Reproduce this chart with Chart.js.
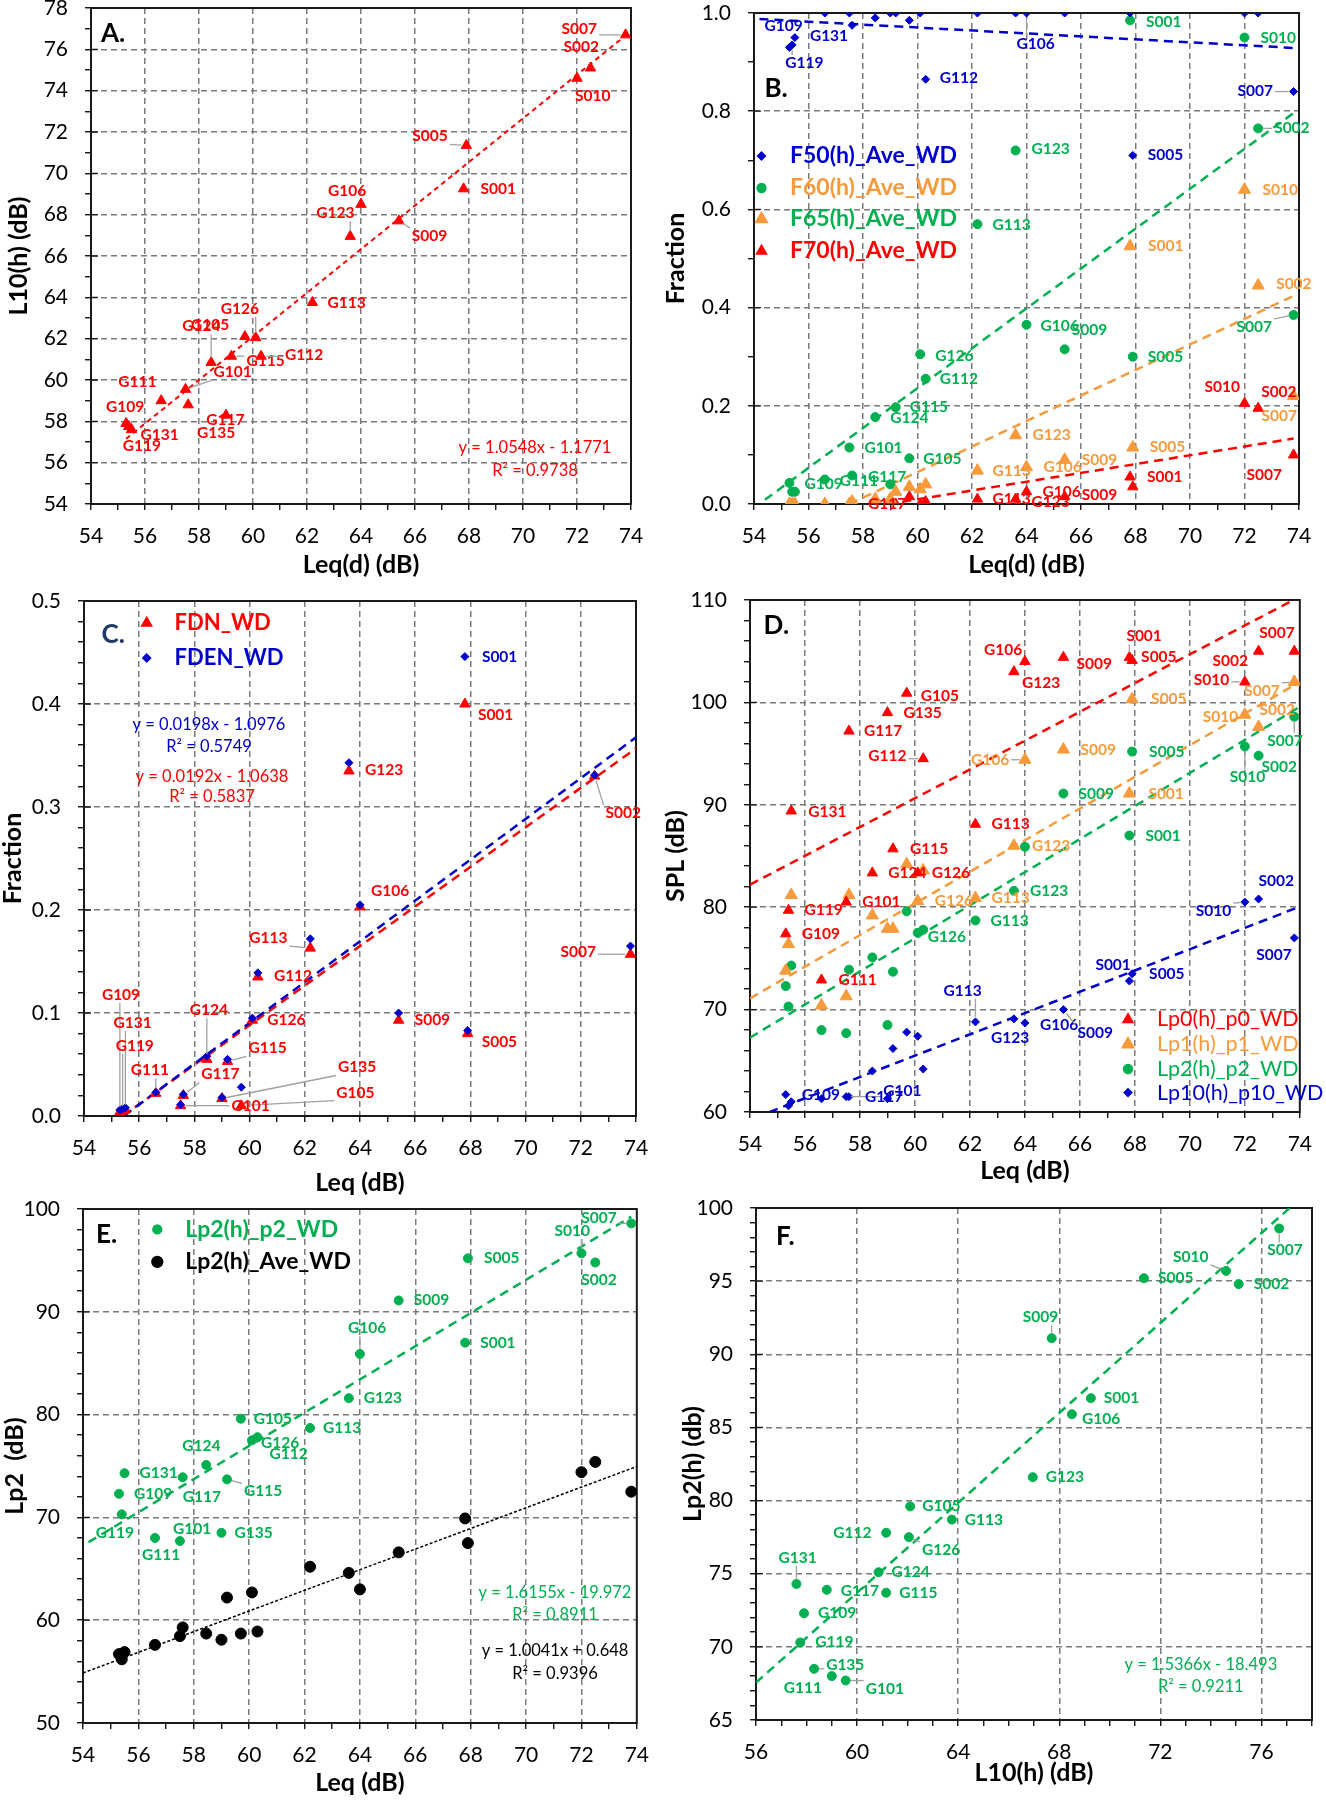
<!DOCTYPE html>
<html>
<head>
<meta charset="utf-8">
<script src="https://cdn.jsdelivr.net/npm/chart.js@4.4.1/dist/chart.umd.min.js"></script>
<style>
  body { margin: 0; background: #fff; width: 1326px; height: 1800px; position: relative; overflow: hidden; }
  canvas { position: absolute; }
</style>
</head>
<body>
<canvas id="pA"></canvas>
<canvas id="pB"></canvas>
<canvas id="pC"></canvas>
<canvas id="pD"></canvas>
<canvas id="pE"></canvas>
<canvas id="pF"></canvas>
<script>
Chart.defaults.font.family = 'Lato, "Liberation Sans", sans-serif';
Chart.defaults.color = '#000';

// sites, same order in every array
const SITES = ['G101', 'G105', 'G106', 'G109', 'G111', 'G112', 'G113', 'G115', 'G117', 'G119', 'G123',
               'G124', 'G126', 'G131', 'G135', 'S001', 'S002', 'S005', 'S007', 'S009', 'S010'];

const LEQ  = [57.5, 59.7, 64.0, 55.3, 56.6, 60.3, 62.2, 59.2, 57.6, 55.4, 63.6, 58.45, 60.1, 55.5, 59.0, 67.8, 72.5, 67.9, 73.8, 65.4, 72.0];
const L10  = [59.55, 62.1, 68.5, 57.9, 59.0, 61.15, 63.75, 61.15, 58.8, 57.75, 66.95, 60.85, 62.05, 57.6, 58.3, 69.25, 75.1, 71.35, 76.7, 67.7, 74.6];

// panel B fractions
const F50 = [1.0, 0.985, 1.0, 0.93, 1.0, 0.865, 1.0, 1.0, 0.975, 0.935, 1.0, 0.99, 1.0, 0.95, 1.0, 1.0, 1.0, 0.71, 0.84, 1.0, 1.0];
const F60 = [0.0, 0.035, 0.075, 0.0, 0.0, 0.04, 0.068, 0.025, 0.005, 0.0, 0.14, 0.01, 0.03, 0.0, 0.01, 0.525, 0.445, 0.115, 0.22, 0.09, 0.64];
const F65 = [0.115, 0.093, 0.365, 0.043, 0.05, 0.255, 0.57, 0.197, 0.058, 0.025, 0.72, 0.177, 0.305, 0.025, 0.04, 0.985, 0.765, 0.30, 0.385, 0.315, 0.95];
const F70 = [0.0, 0.015, 0.025, 0.0, 0.0, 0.005, 0.01, 0.0, 0.0, 0.0, 0.01, 0.0, 0.0, 0.0, 0.0, 0.055, 0.195, 0.035, 0.10, 0.015, 0.205];

// panel C
const FDN  = [0.010, 0.010, 0.203, 0.004, 0.022, 0.135, 0.163, 0.053, 0.020, 0.005, 0.335, 0.055, 0.093, 0.006, 0.017, 0.400, 0.330, 0.080, 0.157, 0.093, null];
const FDEN = [0.011, 0.028, 0.205, 0.006, 0.023, 0.139, 0.172, 0.055, 0.021, 0.007, 0.343, 0.058, 0.095, 0.008, 0.018, 0.446, 0.331, 0.083, 0.165, 0.100, null];

// panel D / E / F levels
const LP0  = [80.5, 100.9, 104.0, 77.4, 72.9, 94.5, 88.1, 85.7, 97.2, 79.7, 103.0, 83.35, 83.35, 89.4, 99.0, 104.4, 105.0, 104.1, 105.0, 104.4, 102.0];
const LP1  = [71.3, 84.2, 94.4, 73.8, 70.4, 83.6, 80.9, 77.9, 81.2, 76.4, 86.0, 79.2, 80.6, 81.2, 77.9, 91.1, 97.6, 100.3, 102.0, 95.4, 98.8];
const LP2  = [67.7, 79.6, 85.9, 72.3, 68.0, 77.8, 78.7, 73.7, 73.9, 70.3, 81.6, 75.1, 77.5, 74.3, 68.5, 87.0, 94.8, 95.2, 98.6, 91.1, 95.7];
const LP10 = [61.5, 67.8, 68.7, 61.7, 61.3, 64.2, 68.8, 66.2, 61.5, 60.6, 69.1, 64.0, 67.4, 61.0, 61.3, 72.8, 80.8, 73.5, 77.0, 70.0, 80.5];
const LP2AVE = [58.45, 58.7, 63.0, 56.7, 57.6, 58.9, 65.2, 62.2, 59.3, 56.2, 64.6, 58.7, 62.7, 56.9, 58.1, 69.9, 75.4, 67.5, 72.5, 66.6, 74.4];

// trendlines: [slope, intercept] and x range
const FIT_A = [1.0548, -1.1771],   RNG_A = [55.3, 73.8];
const FIT_F50 = [-0.00301, 1.151], RNG_F50 = [54.2, 73.8];
const FIT_F60 = [0.026, -1.495],   RNG_F60 = [57.5, 73.8];
const FIT_F65 = [0.0406, -2.200],  RNG_F65 = [54.4, 73.8];
const FIT_F70 = [0.00896, -0.528], RNG_F70 = [58.9, 73.8];
const FIT_FDEN = [0.0198, -1.0976], RNG_FDEN = [55.45, 74];
const FIT_FDN = [0.0192, -1.0638],  RNG_FDN = [55.4, 74];
const FIT_LP0 = [1.406, 6.28],   RNG_LP0 = [54, 74];
const FIT_LP1 = [1.545, -12.33], RNG_LP1 = [54, 74];
const FIT_LP2 = [1.6155, -19.972], RNG_LP2D = [54, 74], RNG_LP2E = [54.2, 73.8];
const FIT_LP10 = [1.04, 3.1],    RNG_LP10 = [54.7, 74];
const FIT_AVE = [1.0041, 0.648], RNG_AVE = [54, 74];
const FIT_F = [1.5366, -18.493], RNG_F = [56, 77.2];

const RED = '#ff0000', ORANGE = '#f79a3b', GREEN = '#00b050', BLUE = '#0000cc', GREY = '#a0a0a0', NAVY = '#1f3864';

function pts(xs, ys) {
  return SITES.map((s, i) => ({ x: xs[i], y: ys[i] }));
}
function fit(c, r) {
  return r.map(x => ({ x: x, y: c[0] * x + c[1] }));
}
function marks(data, style, r, color) {
  return { data: data, pointStyle: style, pointRadius: r, backgroundColor: color, borderColor: color, borderWidth: 1 };
}
function trend(data, color, w, dash) {
  return { data: data, showLine: true, borderColor: color, borderWidth: w, borderDash: dash, pointRadius: 0, fill: false };
}

// annotation settings per canvas (labels, notes, legend markers)
const ANN = {};

const frame = {
  id: 'frame',
  beforeDatasetsDraw(ch) {
    const a = ch.chartArea, c = ch.ctx, ys = ch.scales.y;
    c.save();
    c.strokeStyle = '#1a1a1a';
    c.lineWidth = 2;
    c.strokeRect(a.left, a.top, a.right - a.left, a.bottom - a.top);
    // major y ticks cross the axis
    c.lineWidth = 1.3;
    c.beginPath();
    ys.ticks.forEach((t, i) => {
      if (t.label === '') return;
      const y = ys.getPixelForTick(i);
      c.moveTo(a.left, y);
      c.lineTo(a.left + 7, y);
    });
    c.stroke();
    c.restore();
  }
};

function dot(c, style, r, x, y) {
  if (Chart.helpers && Chart.helpers.drawPoint) {
    Chart.helpers.drawPoint(c, { pointStyle: style, radius: r, borderWidth: 1, rotation: 0 }, x, y);
  } else {
    c.beginPath(); c.arc(x, y, r, 0, Math.PI * 2); c.fill();
  }
}

const annot = {
  id: 'annot',
  afterDatasetsDraw(ch) {
    const o = ANN[ch.canvas.id];
    if (!o) return;
    const c = ch.ctx;
    c.save();
    c.textBaseline = 'middle';
    (o.labels || []).forEach(grp => {
      const meta = ch.getDatasetMeta(grp.ds);
      c.font = 'bold 15.5px Lato';
      grp.items.forEach(([site, dx, dy, lead]) => {
        const el = meta.data[SITES.indexOf(site)];
        if (!el || el.skip) return;
        const tx = el.x + dx, ty = el.y + dy;
        const w = c.measureText(site).width;
        if (lead) {
          const cx = Math.min(Math.max(el.x, tx - 2), tx + w + 2);
          const cy = Math.min(Math.max(el.y, ty - 8), ty + 8);
          const d = Math.hypot(cx - el.x, cy - el.y);
          if (d > 7) {
            c.strokeStyle = GREY;
            c.lineWidth = 1.3;
            c.beginPath();
            c.moveTo(el.x + (cx - el.x) * 5 / d, el.y + (cy - el.y) * 5 / d);
            c.lineTo(cx, cy);
            c.stroke();
          }
        }
        c.fillStyle = grp.color;
        c.textAlign = 'left';
        c.fillText(site, tx, ty);
      });
    });
    (o.marks || []).forEach(([style, r, x, y, color]) => {
      c.fillStyle = color; c.strokeStyle = color;
      dot(c, style, r, x - o.ox, y - o.oy);
    });
    (o.notes || []).forEach(([t, x, y, font, color, align]) => {
      c.font = font;
      c.fillStyle = color;
      c.textAlign = align || 'left';
      c.fillText(t, x - o.ox, y - o.oy);
    });
    c.restore();
  }
};

function axis(kind, a, size) {
  const base = a.base || 0;
  const isMajor = v => { const q = (v - base) / a.major; return Math.abs(q - Math.round(q)) < 1e-6; };
  const inner = v => v > a.min + 1e-9 && v < a.max - 1e-9;
  return {
    type: 'linear', min: a.min, max: a.max,
    afterFit: s => { if (kind === 'x') s.height = size; else s.width = size; },
    ticks: {
      stepSize: a.step, autoSkip: false, maxRotation: 0, minRotation: 0,
      padding: kind === 'x' ? 14 : 17, font: { size: 21 }, color: '#000',
      callback: v => isMajor(v) ? Number(v).toFixed(a.dec || 0) : ''
    },
    grid: {
      color: c => (c.tick && isMajor(c.tick.value) && inner(c.tick.value)) ? '#7a7a7a' : 'rgba(0,0,0,0)',
      lineWidth: 1.5, tickColor: '#000', tickLength: 6, tickWidth: 1.3
    },
    border: { display: false, dash: [6, 4] },
    title: {
      display: true, text: a.title, color: '#000',
      font: { size: 25, weight: 'bold', lineHeight: 1 },
      padding: { top: a.tpad || 0, bottom: 0 }
    }
  };
}

const EXTRA = 30;

function panel(id, g, cfg) {
  const cv = document.getElementById(id);
  const w = g.R - g.L + g.ml + g.mr, h = g.B - g.T + g.mt + g.mb + EXTRA;
  const ox = g.L - g.ml, oy = g.T - g.mt - EXTRA;
  const top = g.mt + EXTRA;
  cv.width = w; cv.height = h;
  cv.style.left = ox + 'px'; cv.style.top = oy + 'px';
  cv.style.width = w + 'px'; cv.style.height = h + 'px';
  ANN[id] = { ox: ox, oy: oy, labels: cfg.labels, notes: cfg.notes, marks: cfg.marks };
  const ch = new Chart(cv, {
    type: 'scatter',
    data: { datasets: cfg.datasets },
    options: {
      responsive: false, animation: false, devicePixelRatio: 1,
      layout: { padding: { left: 0, top: top, right: g.mr, bottom: 0 } },
      plugins: { legend: { display: false }, tooltip: { enabled: false } },
      scales: { x: axis('x', cfg.x, g.mb), y: axis('y', cfg.y, g.ml) }
    },
    plugins: [frame, annot]
  });
  // the scales add room for their end labels; pull the plot box back onto its place
  const dt = ch.chartArea.top - top;
  const dr = ch.chartArea.right - (w - g.mr);
  if (Math.abs(dt) > 0.5 || Math.abs(dr) > 0.5) {
    ch.options.layout.padding = { left: 0, top: Math.max(0, top - dt), right: Math.max(0, g.mr + dr), bottom: 0 };
    ch.update();
  }
  return ch;
}

const LET = 'bold 26px Lato', EQ = '16.5px Lato', LEG = 'bold 23px Lato';

// ---------- A ----------
panel('pA', { L: 91, T: 8, R: 631, B: 504, ml: 91, mt: 8, mr: 32, mb: 73 }, {
  x: { min: 54, max: 74, step: 1, major: 2, title: 'Leq(d) (dB)' },
  y: { min: 54, max: 78, step: 1, major: 2, title: 'L10(h) (dB)', tpad: 6.5 },
  datasets: [
    marks(pts(LEQ, L10), 'triangle', 6, RED),
    trend(fit(FIT_A, RNG_A), RED, 2, [5, 4])
  ],
  labels: [{ ds: 0, color: RED, items: [
    ['S007', -64, -6, 1], ['S002', -27, -21], ['S010', -2, 18], ['S005', -54, -9, 1], ['S001', 17, 0],
    ['G106', -33, -13], ['G123', -34, -23, 1], ['S009', 13, 15, 1], ['G113', 15, 0], ['G126', -35, -29, 1],
    ['G105', -54, -12], ['G124', -29, -36, 1], ['G115', 15, 5, 1], ['G112', 24, -1, 1], ['G101', 28, -17, 1],
    ['G111', -43, -19], ['G117', 18, 15], ['G135', -29, 18], ['G109', -20, -16], ['G131', 9, 5, 1], ['G119', -6, 19]
  ] }],
  notes: [
    ['A.', 101, 34, LET, '#000'],
    ['y = 1.0548x - 1.1771', 535, 448, EQ, RED, 'center'],
    ['R² = 0.9738', 535, 471, EQ, RED, 'center']
  ]
});

// ---------- B ----------
panel('pB', { L: 754, T: 13, R: 1299, B: 504, ml: 91, mt: 13, mr: 27, mb: 73 }, {
  x: { min: 54, max: 74, step: 1, major: 2, title: 'Leq(d) (dB)' },
  y: { min: 0, max: 1, step: 0.1, major: 0.2, dec: 1, title: 'Fraction', tpad: 0.2 },
  datasets: [
    marks(pts(LEQ, F50), 'rectRot', 4, BLUE),
    marks(pts(LEQ, F60), 'triangle', 7, ORANGE),
    marks(pts(LEQ, F65), 'circle', 4.5, GREEN),
    marks(pts(LEQ, F70), 'triangle', 6, RED),
    trend(fit(FIT_F50, RNG_F50), BLUE, 2.5, [9, 6]),
    trend(fit(FIT_F60, RNG_F60), ORANGE, 2.5, [9, 6]),
    trend(fit(FIT_F65, RNG_F65), GREEN, 2.5, [9, 6]),
    trend(fit(FIT_F70, RNG_F70), RED, 2.5, [9, 6])
  ],
  labels: [
    { ds: 0, color: BLUE, items: [
      ['G109', -25, -21], ['G131', 15, -2], ['G119', -7, 18, 1], ['G112', 14, -1], ['G106', -10, 31, 1],
      ['S007', -56, -1, 1], ['S005', 15, 0]
    ] },
    { ds: 2, color: GREEN, items: [
      ['S001', 16, 2], ['S010', 16, 0], ['S002', 16, 0, 1], ['G123', 16, -1], ['G113', 15, 1], ['S007', -57, 12, 1],
      ['G106', 14, 1], ['S009', 7, -19], ['S005', 15, 0], ['G126', 15, 2], ['G112', 14, 0], ['G115', 14, 0],
      ['G124', 15, 1], ['G101', 15, 0], ['G105', 14, 1], ['G117', 16, 1], ['G111', 15, 2], ['G109', 15, 1]
    ] },
    { ds: 1, color: ORANGE, items: [
      ['S010', 18, 0], ['S001', 18, 0], ['S002', 18, -2], ['S007', -32, 20], ['G123', 17, 0], ['S005', 17, -1],
      ['S009', 17, 0], ['G113', 15, 0], ['G106', 17, 0]
    ] },
    { ds: 3, color: RED, items: [
      ['S010', -40, -16], ['S002', 3, -16], ['S007', -47, 20], ['S001', 17, 0], ['S009', 17, -2], ['G106', 16, 0],
      ['G123', 16, 3], ['G113', 15, 0], ['G117', 16, 0]
    ] }
  ],
  marks: [
    ['rectRot', 4, 761.5, 156, BLUE], ['circle', 4.5, 761.5, 188, GREEN],
    ['triangle', 7, 761.5, 219, ORANGE], ['triangle', 6, 761.5, 251, RED]
  ],
  notes: [
    ['B.', 764.5, 89, LET, '#000'],
    ['F50(h)_Ave_WD', 790, 156, LEG, BLUE],
    ['F60(h)_Ave_WD', 790, 188, LEG, ORANGE],
    ['F65(h)_Ave_WD', 790, 219, LEG, GREEN],
    ['F70(h)_Ave_WD', 790, 251, LEG, RED]
  ]
});

// ---------- C ----------
panel('pC', { L: 84, T: 601, R: 636, B: 1116, ml: 84, mt: 18, mr: 27, mb: 79 }, {
  x: { min: 54, max: 74, step: 1, major: 2, title: 'Leq (dB)' },
  y: { min: 0, max: 0.5, step: 0.02, major: 0.1, dec: 1, title: 'Fraction', tpad: 0 },
  datasets: [
    marks(pts(LEQ, FDEN), 'rectRot', 4, BLUE),
    marks(pts(LEQ, FDN), 'triangle', 6, RED),
    trend(fit(FIT_FDEN, RNG_FDEN), BLUE, 2.5, [9, 6]),
    trend(fit(FIT_FDN, RNG_FDN), RED, 2.5, [9, 6])
  ],
  labels: [
    { ds: 1, color: RED, items: [
      ['S001', 13, 11], ['G123', 16, -1], ['S002', 11, 37, 1], ['G106', 11, -16], ['G113', -61, -10, 1],
      ['S007', -70, -2, 1], ['G112', 16, -1], ['S009', 16, 0], ['G126', 15, 0], ['S005', 14, 8],
      ['G124', -17, -49, 1], ['G115', 21, -13, 1], ['G109', -18, -117, 1], ['G131', -12, -87, 1],
      ['G119', -7, -65, 1], ['G111', -25, -23, 1], ['G117', 18, -21, 1], ['G135', 116, -31, 1],
      ['G105', 95, -13, 1], ['G101', 51, 0, 1]
    ] },
    { ds: 0, color: BLUE, items: [['S001', 17, 0]] }
  ],
  marks: [['triangle', 6, 146.7, 623, RED], ['rectRot', 4, 146.7, 658, BLUE]],
  notes: [
    ['C.', 101.5, 635, LET, NAVY],
    ['FDN_WD', 174.6, 623, 'bold 22px Lato', RED],
    ['FDEN_WD', 174.6, 658, 'bold 22px Lato', BLUE],
    ['y = 0.0198x - 1.0976', 209, 725, EQ, BLUE, 'center'],
    ['R² = 0.5749', 209, 746.6, EQ, BLUE, 'center'],
    ['y = 0.0192x - 1.0638', 212, 776.7, EQ, RED, 'center'],
    ['R² = 0.5837', 212, 797, EQ, RED, 'center']
  ]
});

// ---------- D ----------
panel('pD', { L: 750, T: 600, R: 1311, B: 1112, ml: 87, mt: 18, mr: 15, mb: 71 }, {
  x: { min: 54, max: 74, step: 1, major: 2, title: 'Leq (dB)' },
  y: { min: 60, max: 110, step: 2, major: 10, title: 'SPL (dB)', tpad: 0 },
  datasets: [
    marks(pts(LEQ, LP0), 'triangle', 6, RED),
    marks(pts(LEQ, LP1), 'triangle', 7, ORANGE),
    marks(pts(LEQ, LP2), 'circle', 4.5, GREEN),
    marks(pts(LEQ, LP10), 'rectRot', 4, BLUE),
    trend(fit(FIT_LP0, RNG_LP0), RED, 2.5, [9, 6]),
    trend(fit(FIT_LP1, RNG_LP1), ORANGE, 2.5, [9, 6]),
    trend(fit(FIT_LP2, RNG_LP2D), GREEN, 2.5, [9, 6]),
    trend(fit(FIT_LP10, RNG_LP10), BLUE, 2.5, [9, 6])
  ],
  labels: [
    { ds: 0, color: RED, items: [
      ['S001', -3, -21, 1], ['S007', -35, -18], ['G106', -41, -11], ['S009', 13, 7], ['S005', 9, -3],
      ['S002', -46, 10], ['G123', 8, 11], ['S010', -51, -2, 1], ['G105', 14, 3], ['G135', 16, 0],
      ['G117', 15, 0], ['G112', -55, -3, 1], ['G131', 17, 1], ['G113', 16, 0], ['G115', 17, 0],
      ['G124', 16, 0], ['G126', 14, 0], ['G101', 16, 0], ['G119', 16, 0], ['G109', 16, 0], ['G111', 17, 0]
    ] },
    { ds: 1, color: ORANGE, items: [
      ['S005', 19, 0], ['S007', -50, 9, 1], ['S010', -42, 2], ['S002', 1, -17], ['S009', 17, 0],
      ['G106', -54, 0, 1], ['S001', 19, 0], ['G123', 18, 0], ['G126', 17, 0], ['G113', 16, 0]
    ] },
    { ds: 2, color: GREEN, items: [
      ['S005', 17, 0], ['S007', -27, 24, 1], ['S002', 3, 11], ['S010', -15, 31, 1], ['S009', 15, 0],
      ['S001', 16, 0], ['G123', 16, 0], ['G113', 15, 0], ['G126', 10, 4]
    ] },
    { ds: 3, color: BLUE, items: [
      ['S002', 0, -18], ['S010', -49, 9, 1], ['S007', -38, 17], ['S001', -34, -16], ['S005', 17, 0],
      ['G113', -32, -31, 1], ['G106', 15, 2], ['G123', -23, 19], ['S009', 14, 23, 1], ['G109', 16, 0],
      ['G101', 37, -6, 1], ['G117', 16, 0]
    ] }
  ],
  marks: [
    ['triangle', 6, 1128, 1019.5, RED], ['triangle', 7, 1128, 1044.4, ORANGE],
    ['circle', 4.5, 1128, 1069, GREEN], ['rectRot', 4, 1128, 1092.6, BLUE]
  ],
  notes: [
    ['D.', 763.6, 626, LET, '#000'],
    ['Lp0(h)_p0_WD', 1157, 1019.5, '21.5px Lato', RED],
    ['Lp1(h)_p1_WD', 1157, 1044.4, '21.5px Lato', ORANGE],
    ['Lp2(h)_p2_WD', 1157, 1069, '21.5px Lato', GREEN],
    ['Lp10(h)_p10_WD', 1157, 1092.6, '21.5px Lato', BLUE]
  ]
});

// ---------- E ----------
panel('pE', { L: 83, T: 1209, R: 641, B: 1723, ml: 83, mt: 20, mr: 22, mb: 72 }, {
  x: { min: 54, max: 74, step: 1, major: 2, title: 'Leq (dB)' },
  y: { min: 50, max: 100, step: 2, major: 10, title: 'Lp2  (dB)', tpad: 2.3 },
  datasets: [
    marks(pts(LEQ, LP2), 'circle', 4.5, GREEN),
    marks(pts(LEQ, LP2AVE), 'circle', 5.5, '#000'),
    trend(fit(FIT_LP2, RNG_LP2E), GREEN, 2.5, [9, 6]),
    trend(fit(FIT_AVE, RNG_AVE), '#000', 1.5, [3, 2])
  ],
  labels: [{ ds: 0, color: GREEN, items: [
    ['S007', -50, -5, 1], ['S010', -27, -22, 1], ['S005', 16, 0], ['S002', -14, 18], ['S009', 15, 0],
    ['G106', -12, -26, 1], ['S001', 15, 0], ['G123', 15, 0], ['G105', 13, 0], ['G113', 13, 0],
    ['G126', 9, 3], ['G112', 12, 17], ['G124', -24, -19], ['G131', 15, 0], ['G117', 0, 20],
    ['G115', 17, 12, 1], ['G109', 15, 0], ['G119', -26, 19], ['G101', -7, -12], ['G135', 13, 0], ['G111', -13, 17]
  ] }],
  marks: [['circle', 4.5, 157.3, 1229.4, GREEN], ['circle', 5.5, 157.3, 1261.8, '#000']],
  notes: [
    ['E.', 96, 1234.6, LET, '#000'],
    ['Lp2(h)_p2_WD', 185.2, 1229.4, LEG, GREEN],
    ['Lp2(h)_Ave_WD', 185.2, 1261.8, LEG, '#000'],
    ['y = 1.6155x - 19.972', 555, 1592.4, EQ, GREEN, 'center'],
    ['R² = 0.8911', 555, 1615, EQ, GREEN, 'center'],
    ['y = 1.0041x + 0.648', 555, 1650.5, EQ, '#000', 'center'],
    ['R² = 0.9396', 555, 1673.5, EQ, '#000', 'center']
  ]
});

// ---------- F ----------
panel('pF', { L: 756, T: 1208, R: 1313, B: 1720, ml: 93, mt: 20, mr: 13, mb: 65 }, {
  x: { min: 56, max: 78, step: 1, major: 4, title: 'L10(h) (dB)' },
  y: { min: 65, max: 100, step: 1, major: 5, title: 'Lp2(h) (db)', tpad: 17 },
  datasets: [
    marks(pts(L10, LP2), 'circle', 4.5, GREEN),
    trend(fit(FIT_F, RNG_F), GREEN, 2.5, [9, 6])
  ],
  labels: [{ ds: 0, color: GREEN, items: [
    ['S007', -12, 22, 1], ['S010', -53, -14, 1], ['S005', 14, 0], ['S002', 15, 0], ['S009', -29, -21, 1],
    ['S001', 13, 0], ['G106', 10, 5], ['G123', 13, 0], ['G105', 12, 0], ['G113', 13, 0], ['G112', -53, 0],
    ['G126', 13, 13, 1], ['G124', 13, 0], ['G131', -18, -26, 1], ['G117', 14, 1], ['G115', 13, 0],
    ['G109', 14, 0], ['G119', 15, 0], ['G135', 12, -4, 1], ['G111', -48, 12], ['G101', 20, 8, 1]
  ] }],
  notes: [
    ['F.', 776, 1237, LET, '#000'],
    ['y = 1.5366x - 18.493', 1200.8, 1664.4, EQ, GREEN, 'center'],
    ['R² = 0.9211', 1200.8, 1687, EQ, GREEN, 'center']
  ]
});
</script>
</body>
</html>
